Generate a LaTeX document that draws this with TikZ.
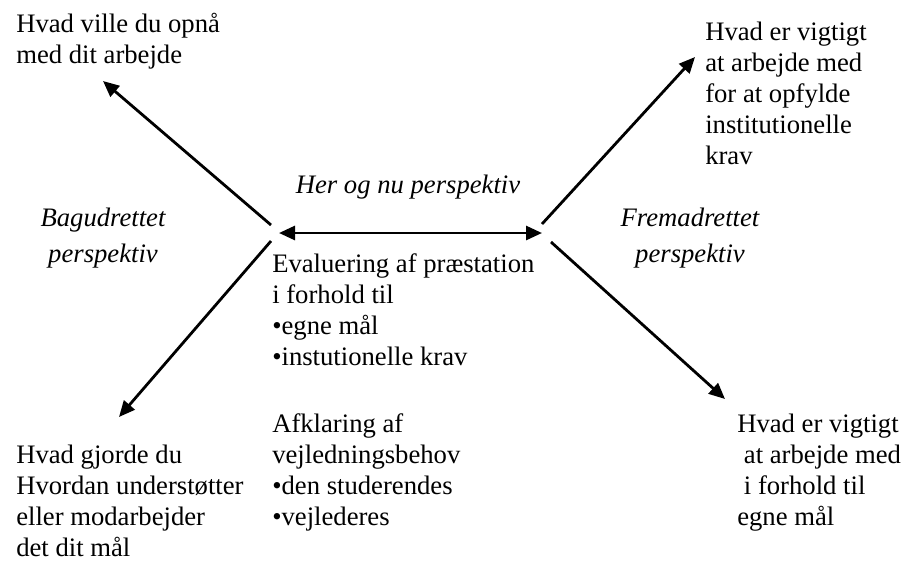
\documentclass[tikz,border=0pt]{standalone}
\usepackage{fontspec}
\setmainfont{Liberation Serif}
\usetikzlibrary{arrows.meta}
\tikzset{
  txt/.style={anchor=base west, align=left, inner sep=0pt, font=\fontsize{20}{23.25}\selectfont},
  itxt/.style={anchor=base, align=center, inner sep=0pt, font=\fontsize{20}{27}\selectfont\itshape},
  arr/.style={line width=2.1pt, -{Triangle[length=12pt,width=10.5pt]}},
  darr/.style={line width=2.1pt, {Triangle[length=12pt,width=10.5pt]}-{Triangle[length=12pt,width=10.5pt]}}
}
\begin{document}
\begin{tikzpicture}[x=0.75pt,y=-0.75pt]
\useasboundingbox (0,0) rectangle (903,562);
% texts (anchor = baseline of the last line)
\node[txt] (ul) at (16,63) {Hvad ville du opnå\\med dit arbejde};
\node[txt] (ur) at (705,164) {Hvad er vigtigt\\at arbejde med\\for at opfylde\\institutionelle\\krav};
\node[itxt] (hn) at (408,193) {Her og nu perspektiv};
\node[itxt] (bag) at (103,262) {Bagudrettet\\perspektiv};
\node[itxt] (frem) at (690,262) {Fremadrettet\\perspektiv};
\node[txt] (ev) at (272,365) {Evaluering af præstation\\i forhold til\\•egne mål\\•instutionelle krav};
\node[txt] (af) at (272,525) {Afklaring af\\vejledningsbehov\\•den studerendes\\•vejlederes};
\node[txt] (ll) at (16,556) {Hvad gjorde du\\Hvordan understøtter\\eller modarbejder\\det dit mål};
\node[txt] (lr) at (737,525) {Hvad er vigtigt\\\ at arbejde med\\\ i forhold til\\egne mål};
% arrow end points
\coordinate (cul) at (271,225);
\coordinate (cll) at (271,241);
\coordinate (cur) at (542,224);
\coordinate (clr) at (551,242);
\coordinate (hl) at (279,233);
\coordinate (hr) at (542,233);
\coordinate (tul) at (103,81);
\coordinate (tll) at (119,417);
\coordinate (tur) at (695,57);
\coordinate (tlr) at (725,399);
\draw[arr] (cul) -- (tul);
\draw[arr] (cll) -- (tll);
\draw[arr] (cur) -- (tur);
\draw[arr] (clr) -- (tlr);
\draw[darr] (hl) -- (hr);
\end{tikzpicture}
\end{document}
